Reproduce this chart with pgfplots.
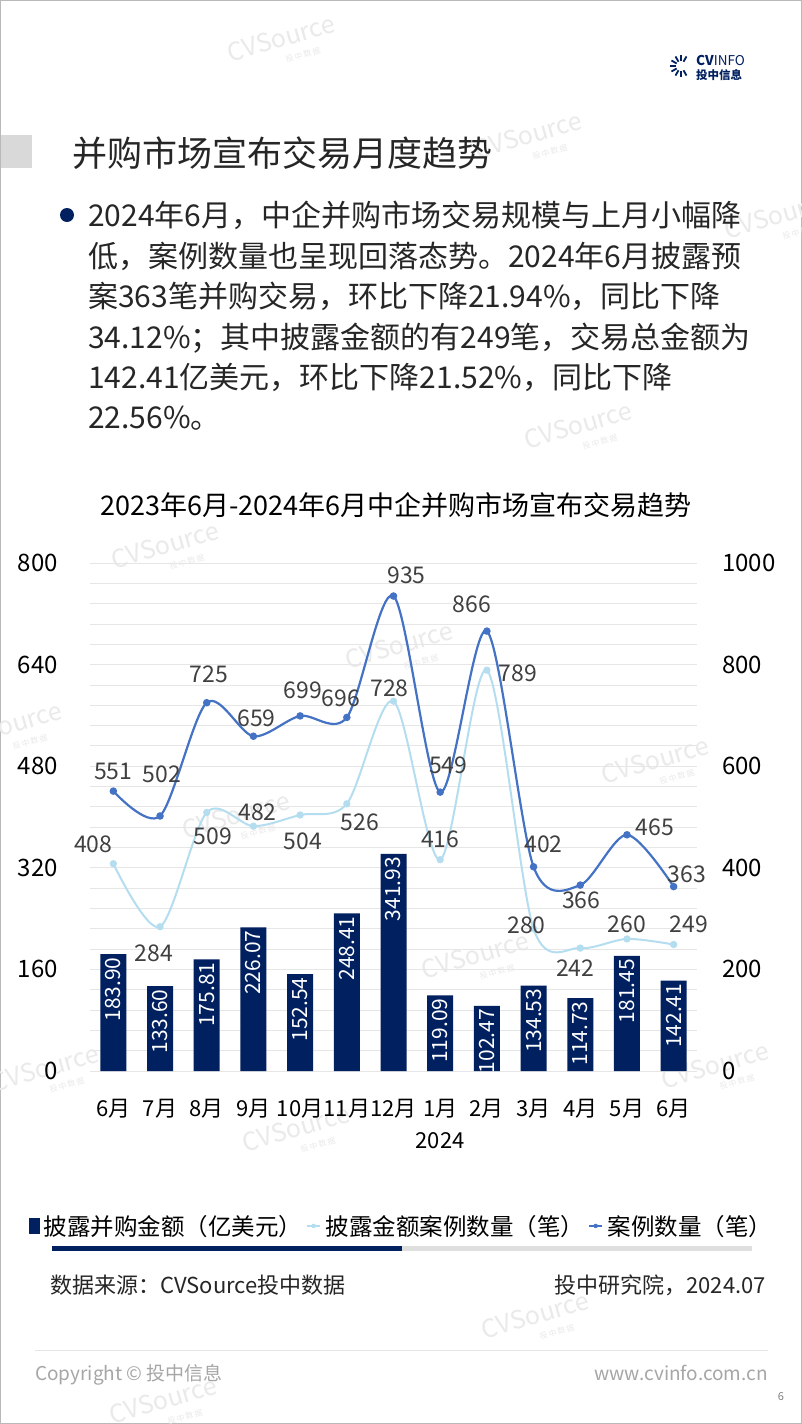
\documentclass[border=0pt]{standalone}
\usepackage{fontspec}
\setmainfont{Noto Sans CJK SC}
\usepackage{pgfplots}
\usepackage{pgfplotstable}
\pgfplotsset{compat=1.18}
\definecolor{navy}{HTML}{002060}
\definecolor{dline}{HTML}{4472C4}
\definecolor{lline}{HTML}{B4DDF0}
\definecolor{lab}{HTML}{404040}
\definecolor{gridc}{HTML}{E6E6E6}
\definecolor{wmc}{HTML}{EAEAEA}

\pgfplotstableread{
x amt amtl lc ldx ldy dc ddx ddy
0 183.90 183.90 408 -20 19 551 0 20
1 133.60 133.60 284 -6 -27 502 2 42
2 175.81 175.81 509 6 -24 725 2 28
3 226.07 226.07 482 4 14 659 3 18
4 152.54 152.54 504 3 -26 699 3 26
5 248.41 248.41 526 13 -18 696 -6 19
6 341.93 341.93 728 -4 13 935 13 21
7 119.09 119.09 416 0 20 549 8 27
8 102.47 102.47 789 31 -3 866 -15 27
9 134.53 134.53 280 -7 3 402 10 22
10 114.73 114.73 242 -5 -20 366 1 -15
11 181.45 181.45 260 0 15 465 28 7
12 142.41 142.41 249 15 20 363 13 12
}\data

\newcommand{\wm}[2]{%
  \node[rotate=16, text=wmc, font=\fontsize{25}{25}\selectfont, inner sep=0pt] at (#1,-#2) {CVSource};
  \node[rotate=16, text=wmc, font=\fontsize{8}{8}\selectfont, inner sep=0pt] at (#1+22,-#2-17) {投\,中\,数\,据};}

\begin{document}
\begin{tikzpicture}[x=1pt,y=1pt]
\useasboundingbox (0,0) rectangle (802,-1424);
\fill[white] (0,0) rectangle (802,-1424);
\draw[gray!55, line width=1.2pt] (0.6,-0.6) rectangle (801.4,-1423.4);

% watermarks
\wm{281}{38}\wm{528}{135}\wm{778}{215}\wm{578}{425}\wm{165}{545}
\wm{399}{645}\wm{8}{725}\wm{655}{760}\wm{236}{815}\wm{475}{955}
\wm{45}{1068}\wm{715}{1065}\wm{296}{1128}\wm{535}{1315}\wm{163}{1400}

% logo
\foreach \a in {60,90,120,150,180,210,240,270,300}{
  \draw[navy, line width=1.8pt] (681,-66) ++(\a:5) -- ++(\a:6);
}
\node[anchor=west, inner sep=0pt, text=navy, font=\fontsize{13.5}{14}\selectfont] at (696,-60) {\textbf{CV}INFO};
\node[anchor=west, inner sep=0pt, text=navy, font=\fontsize{11.5}{12}\selectfont] at (696,-75) {\textbf{投中信息}};

% title
\fill[gray!30] (1,-135) rectangle (32,-168);
\node[anchor=west, inner sep=0pt, text=black!85, font=\fontsize{35}{40}\selectfont] at (72,-153) {并购市场宣布交易月度趋势};

% bullet text
\fill[navy] (67,-215) circle (7);
\begin{scope}[every node/.style={anchor=base west, inner sep=0pt, text=black!85, font=\fontsize{30}{34}\selectfont}]
\node at (88,-226.5) {2024年6月，中企并购市场交易规模与上月小幅降};
\node at (88,-267) {低，案例数量也呈现回落态势。2024年6月披露预};
\node at (88,-307.5) {案363笔并购交易，环比下降21.94\%，同比下降};
\node at (88,-348) {34.12\%；其中披露金额的有249笔，交易总金额为};
\node at (88,-388.5) {142.41亿美元，环比下降21.52\%，同比下降};
\node at (88,-428.5) {22.56\%。};
\end{scope}

% chart title
\node[inner sep=0pt, text=black, font=\fontsize{27}{30}\selectfont] at (396,-505) {2023年6月-2024年6月中企并购市场宣布交易趋势};

% left axis with bars
\begin{axis}[
  at={(90pt,-1071pt)}, anchor=south west, scale only axis,
  width=607pt, height=508pt,
  xmin=-0.5, xmax=12.5, ymin=0, ymax=800,
  ytick={0,160,...,800}, minor y tick num=4,
  ymajorgrids, yminorgrids,
  major grid style={gridc, line width=0.8pt},
  minor grid style={gridc, line width=0.8pt},
  axis line style={draw=none},
  major tick length=0pt, minor tick length=0pt,
  xtick={0,...,12},
  xticklabels={6月,7月,8月,9月,10月,11月,12月,1月,2月,3月,4月,5月,6月},
  xticklabel style={anchor=base, inner sep=0pt, yshift=-45pt, text=black, font=\fontsize{22}{24}\selectfont},
  yticklabel style={anchor=east, inner sep=0pt, xshift=-32pt, text=black, font=\fontsize{24}{26}\selectfont},
  /pgf/number format/assume math mode=true,
  /pgf/number format/1000 sep={},
  clip=false,
]
\addplot[ybar, bar width=26pt, fill=navy, draw=none,
  nodes near coords, point meta=explicit symbolic,
  every node near coord/.append style={rotate=90, anchor=east, text=white, inner sep=3pt, font=\fontsize{21}{24}\selectfont}]
  table[x=x, y=amt, meta=amtl]{\data};
\node[anchor=base, inner sep=0pt, text=black, font=\fontsize{22}{24}\selectfont] at (axis cs:7,0) [yshift=-77pt] {2024};
\end{axis}

% right axis with lines
\begin{axis}[
  at={(90pt,-1071pt)}, anchor=south west, scale only axis,
  width=607pt, height=508pt,
  xmin=-0.5, xmax=12.5, ymin=0, ymax=1000,
  axis y line*=right, hide x axis,
  ytick={0,200,...,1000},
  axis line style={draw=none},
  major tick length=0pt,
  yticklabel style={anchor=west, inner sep=0pt, xshift=25pt, text=black, font=\fontsize{24}{26}\selectfont},
  /pgf/number format/assume math mode=true,
  /pgf/number format/1000 sep={},
  clip=false,
  legend style={at={(0.5115,-0.305)}, anchor=center, draw=none, fill=none,
    legend columns=3, font=\fontsize{23.5}{26}\selectfont, inner sep=0pt,
    nodes={inner sep=0pt},
    /tikz/every odd column/.append style={column sep=5pt},
    /tikz/every even column/.append style={column sep=4pt}},
  legend cell align=left,
]
\addlegendimage{legend image code/.code={\fill[navy] (0pt,-7.5pt) rectangle (10pt,7.5pt);}}
\addlegendentry{披露并购金额（亿美元）}
\addlegendimage{legend image code/.code={\draw[lline, line width=1.5pt] (0pt,0pt) -- (13pt,0pt); \fill[lline] (6.5pt,0pt) circle (2pt);}}
\addlegendentry{披露金额案例数量（笔）}
\addlegendimage{legend image code/.code={\draw[dline, line width=1.5pt] (0pt,0pt) -- (13pt,0pt); \fill[dline] (6.5pt,0pt) circle (2pt);}}
\addlegendentry{案例数量（笔）}

\addplot[lline, line width=2pt, smooth, mark=*, mark size=2.6pt,
  mark options={fill=lline, draw=lline},
  nodes near coords, point meta=explicit symbolic,
  visualization depends on={\thisrow{ldx} \as \ldx},
  visualization depends on={\thisrow{ldy} \as \ldy},
  every node near coord/.append style={anchor=center, xshift=\ldx pt, yshift=\ldy pt, text=lab, inner sep=0pt, font=\fontsize{23}{26}\selectfont},
  forget plot]
  table[x=x, y=lc, meta=lc]{\data};

\addplot[dline, line width=2.2pt, smooth, mark=*, mark size=2.6pt,
  mark options={fill=dline, draw=dline},
  nodes near coords, point meta=explicit symbolic,
  visualization depends on={\thisrow{ddx} \as \ddx},
  visualization depends on={\thisrow{ddy} \as \ddy},
  every node near coord/.append style={anchor=center, xshift=\ddx pt, yshift=\ddy pt, text=lab, inner sep=0pt, font=\fontsize{23}{26}\selectfont},
  forget plot]
  table[x=x, y=dc, meta=dc]{\data};
\end{axis}

% scroll bar
\fill[gray!25] (52,-1245.5) rectangle (752,-1250.5);
\fill[navy] (52,-1245.5) rectangle (402,-1250.5);

% source
\node[anchor=west, inner sep=0pt, text=black!85, font=\fontsize{22}{24}\selectfont] at (50,-1285) {数据来源：CVSource投中数据};
\node[anchor=east, inner sep=0pt, text=black!85, font=\fontsize{22}{24}\selectfont] at (766,-1285) {投中研究院，2024.07};

% footer
\draw[gray!20, line width=0.8pt] (35,-1350) -- (768,-1350);
\node[anchor=west, inner sep=0pt, text=black!35, font=\fontsize{19}{22}\selectfont] at (35,-1375) {Copyright © 投中信息};
\node[anchor=east, inner sep=0pt, text=black!35, font=\fontsize{19}{22}\selectfont] at (768,-1373) {www.cvinfo.com.cn};
\node[inner sep=0pt, text=black!50, font=\fontsize{11}{12}\selectfont] at (781,-1397) {6};
\end{tikzpicture}
\end{document}
